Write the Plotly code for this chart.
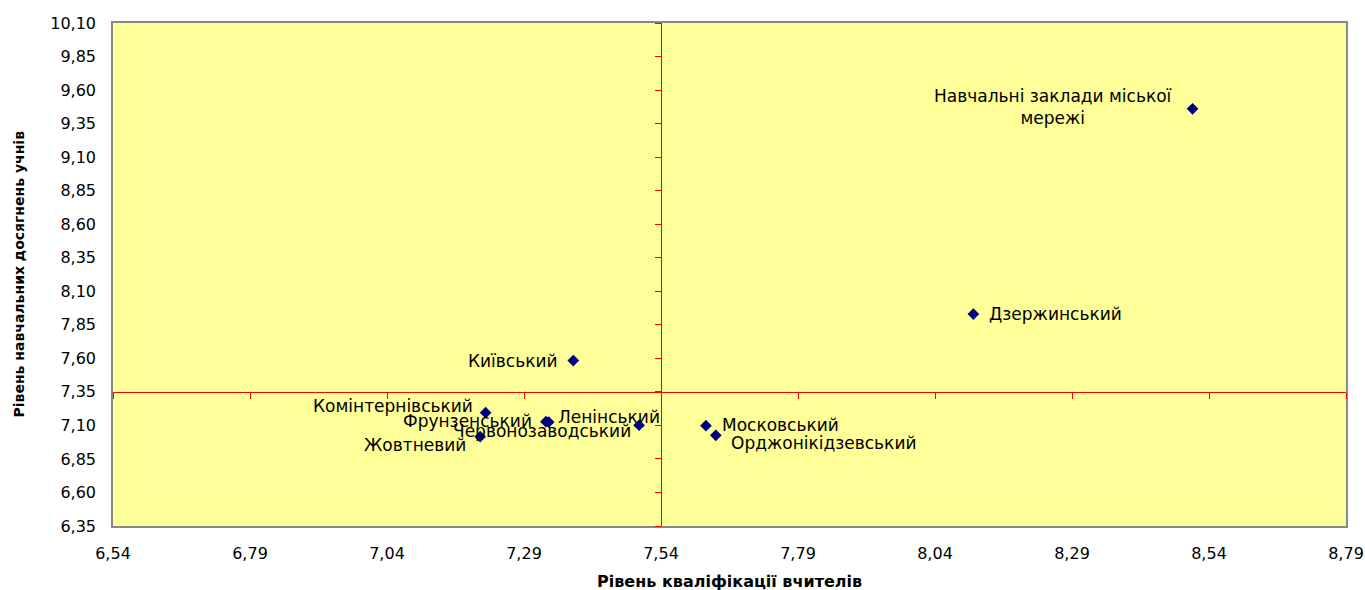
import plotly.graph_objects as go

# ---- data ----
districts = [
    "Навчальні заклади міської<br>мережі",
    "Дзержинський",
    "Київський",
    "Комінтернівський",
    "Фрунзенський",
    "Ленінський",
    "Червонозаводський",
    "Жовтневий",
    "Московський",
    "Орджонікідзевський",
]
teacher_level = [8.51, 8.11, 7.38, 7.22, 7.33, 7.335, 7.50, 7.21, 7.622, 7.64]
student_level = [9.46, 7.93, 7.583, 7.195, 7.128, 7.125, 7.101, 7.016, 7.098, 7.026]

x_range = [6.54, 8.79]
y_range = [6.35, 10.10]
tick_step = 0.25
cross_x = 7.54
cross_y = 7.35

x_title = "Рівень кваліфікації вчителів"
y_title = "Рівень навчальних досягнень учнів"

# label placement (pixels) : xanchor, xshift, yshift
label_pos = [
    ("center", -140, 2),
    ("left", 14, 0),
    ("right", -13, 0),
    ("right", -11, 7),
    ("right", -12, 1),
    ("left", 7, 5),
    ("right", -6, -6),
    ("right", -12, -8),
    ("left", 14, 1),
    ("left", 13, -8),
]

FONT = "DejaVu Sans"
fig = go.Figure()
fig.add_trace(go.Scatter(
    x=teacher_level, y=student_level, mode="markers",
    marker=dict(symbol="diamond", size=9, color="#000080"),
    hoverinfo="skip", showlegend=False,
))

for name, xv, yv, (xa, xs, ys) in zip(districts, teacher_level, student_level, label_pos):
    fig.add_annotation(x=xv, y=yv, text=name, showarrow=False,
                       xanchor=xa, yanchor="middle", xshift=xs, yshift=ys,
                       font=dict(family=FONT, size=17, color="black"), align="center")

# axis titles
fig.add_annotation(x=0.5, y=0, xref="paper", yref="paper", yshift=-55,
                   text="<b>" + x_title + "</b>", showarrow=False,
                   xanchor="center", yanchor="middle",
                   font=dict(family=FONT, size=16, color="black"))
fig.add_annotation(x=0, y=0.5, xref="paper", yref="paper", xshift=-95,
                   text="<b>" + y_title + "</b>", showarrow=False, textangle=-90,
                   xanchor="center", yanchor="middle",
                   font=dict(family=FONT, size=14, color="black"))

xpos = (cross_y - y_range[0]) / (y_range[1] - y_range[0])
ypos = (cross_x - x_range[0]) / (x_range[1] - x_range[0])

axis_common = dict(showgrid=False, zeroline=False, dtick=tick_step, tickformat=".2f",
                   automargin=False,
                   tickfont=dict(family=FONT, size=16, color="black"))

fig.update_layout(
    width=1365, height=590,
    margin=dict(l=113, r=19, t=23, b=64),
    paper_bgcolor="white", plot_bgcolor="#FFFF99",
    separators=", ",
    xaxis=dict(range=x_range, tick0=x_range[0], showline=True, mirror=True,
               linecolor="#888888", linewidth=1.5, ticks="", ticklabelstandoff=12,
               **axis_common),
    yaxis=dict(range=y_range, tick0=y_range[0], showline=True, mirror=True,
               linecolor="#888888", linewidth=1.5, ticks="", ticklabelstandoff=12,
               **axis_common),
    xaxis2=dict(range=x_range, tick0=x_range[0], dtick=tick_step, overlaying="x",
                anchor="free", position=xpos, side="bottom", showline=True,
                linecolor="red", linewidth=1, ticks="outside", ticklen=6,
                tickcolor="red", tickwidth=1, showticklabels=False, showgrid=False,
                zeroline=False, automargin=False),
    yaxis2=dict(range=y_range, tick0=y_range[0], dtick=tick_step, overlaying="y",
                anchor="free", position=ypos, side="left", showline=True,
                linecolor="red", linewidth=1, ticks="outside", ticklen=6,
                tickcolor="red", tickwidth=1, showticklabels=False, showgrid=False,
                zeroline=False, automargin=False),
)
# invisible trace to activate the secondary axes
fig.add_trace(go.Scatter(x=[x_range[0]], y=[y_range[0]], xaxis="x2", yaxis="y2",
                         mode="markers", marker=dict(opacity=0), hoverinfo="skip",
                         showlegend=False))

fig.write_html("out.html", config={"displayModeBar": False},
               post_script="document.body.style.margin='0';document.body.style.overflow='hidden';")
